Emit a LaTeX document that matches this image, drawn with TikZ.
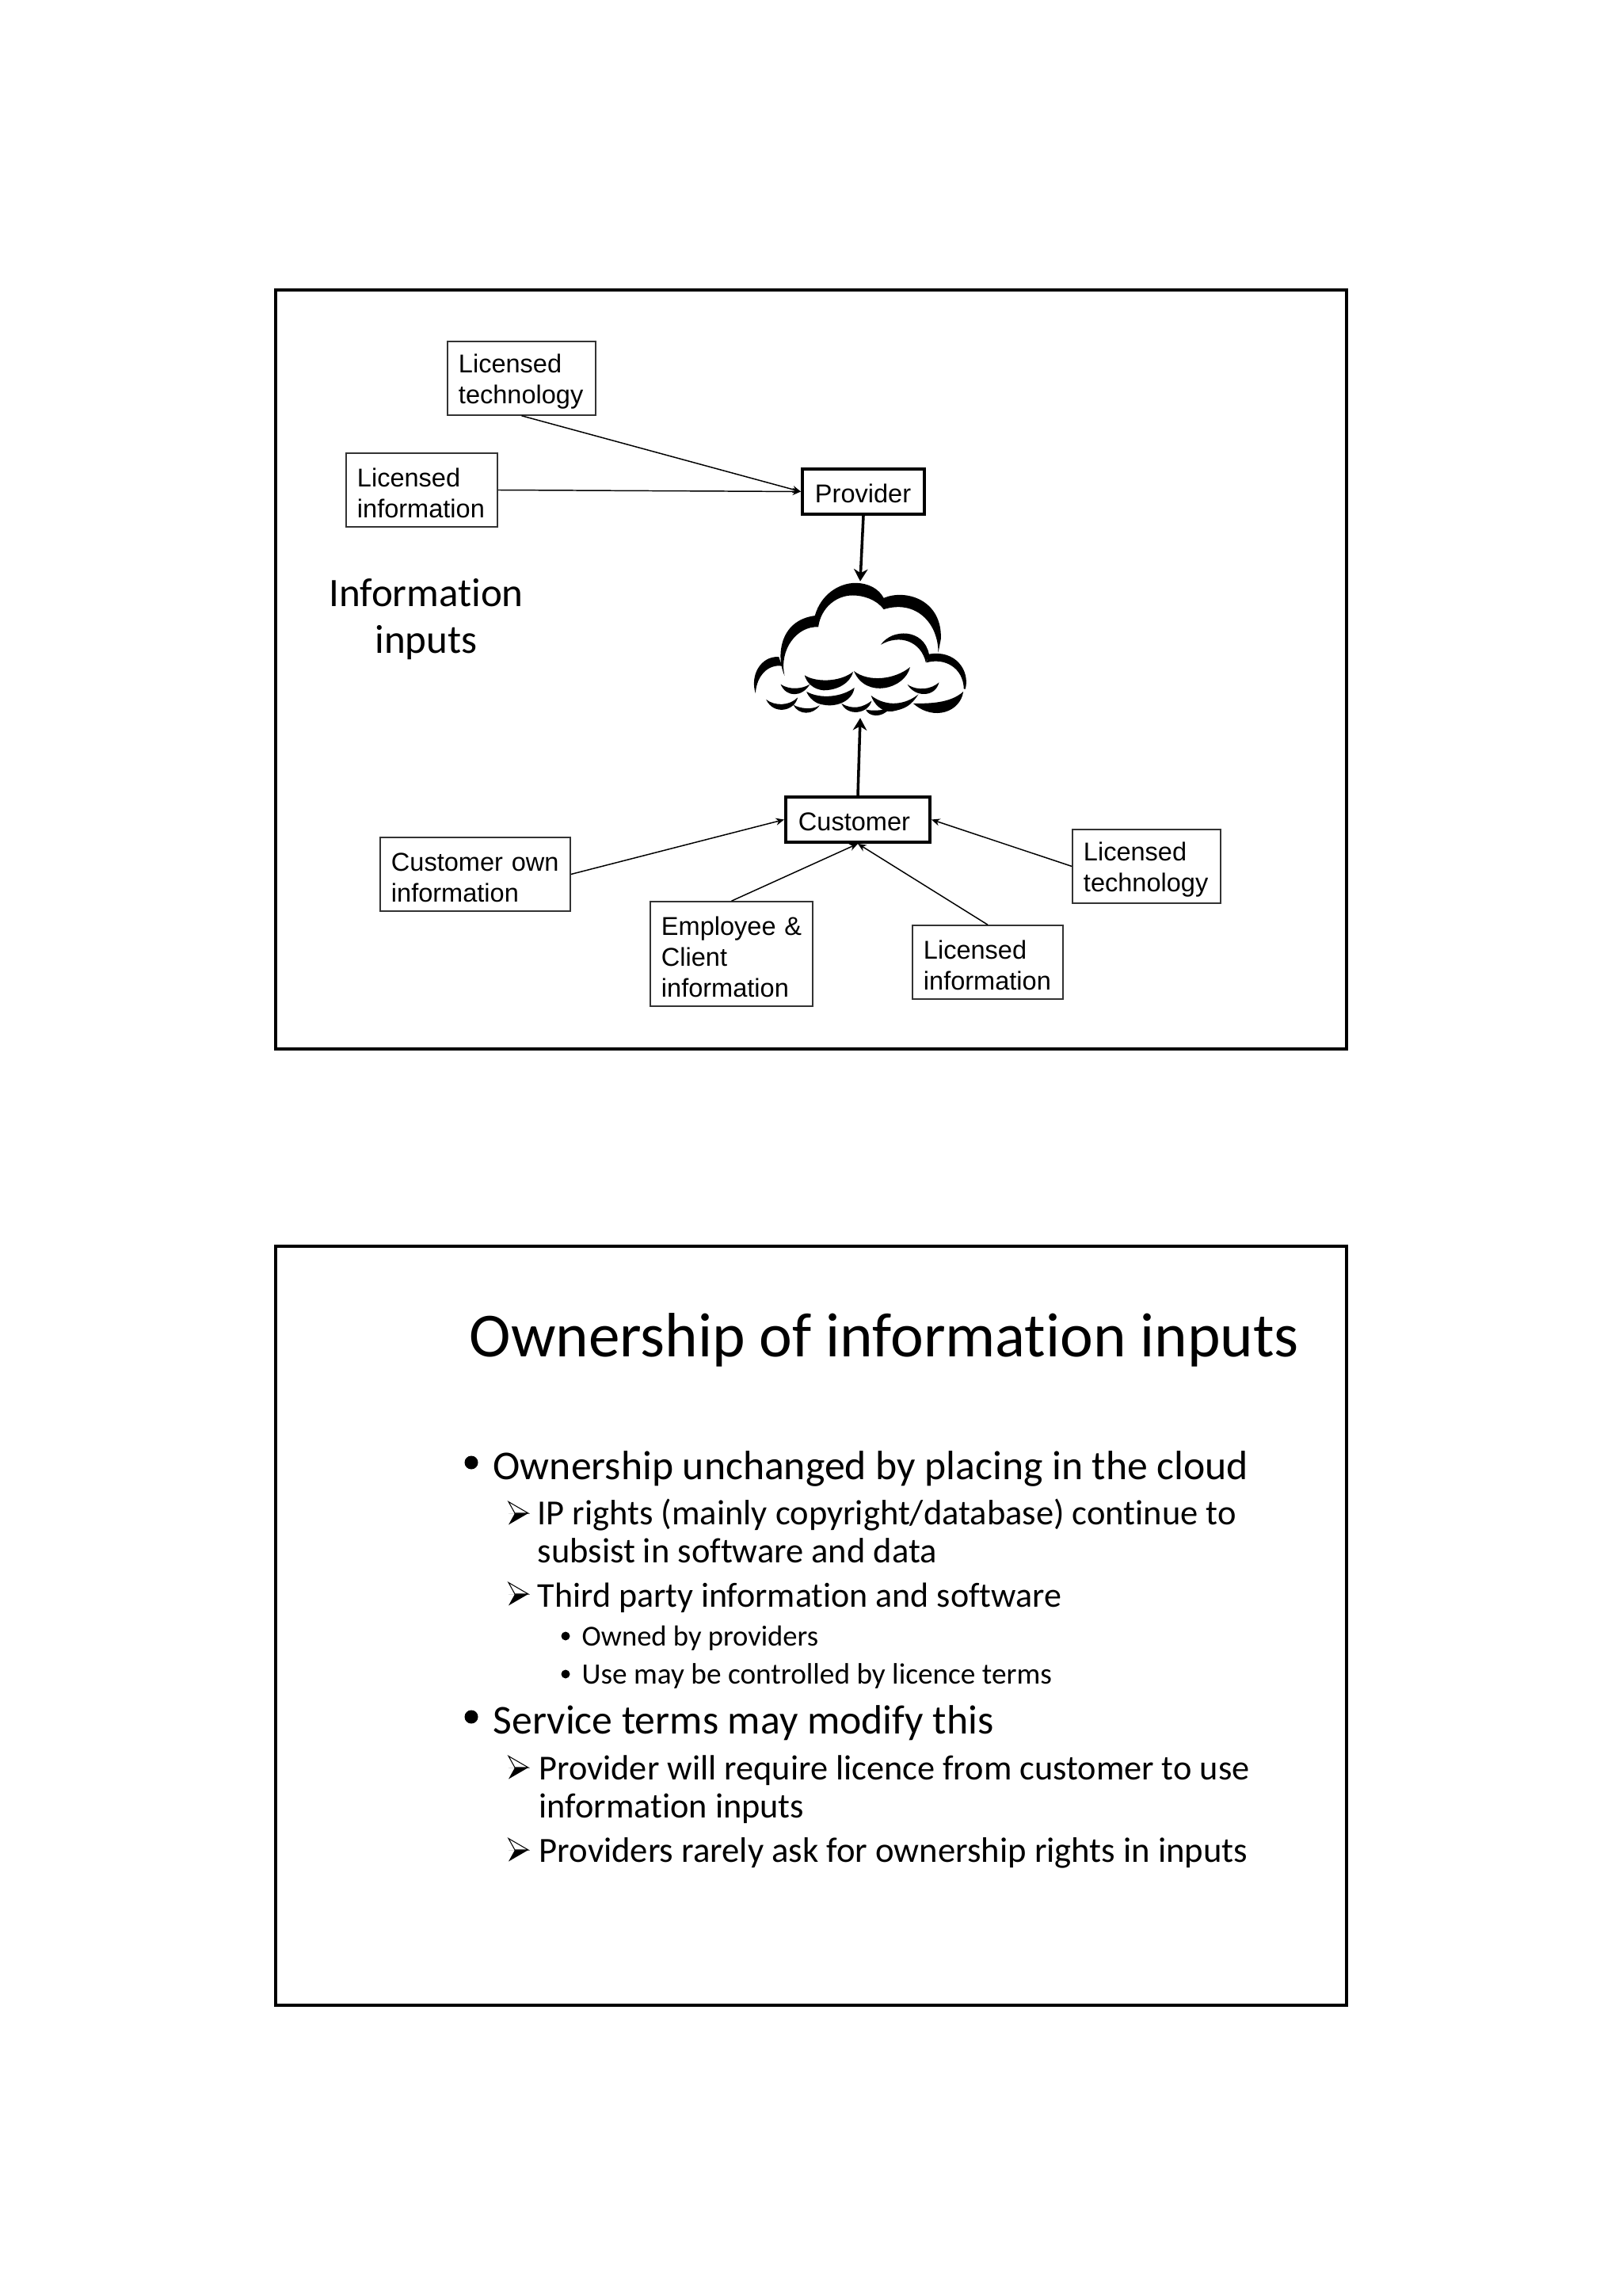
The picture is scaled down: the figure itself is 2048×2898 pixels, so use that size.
\documentclass[tikz,border=0pt]{standalone}
\usepackage{fontspec}
\usetikzlibrary{arrows.meta}
\setmainfont{Liberation Sans}
\newfontfamily\slidefont[Ligatures=NoCommon]{Carlito}
\tikzset{
  framebox/.style={draw=black,line width=1.1pt},
  infobox/.style={draw=black!80,line width=0.42pt,inner xsep=0.14cm,inner ysep=0pt,align=left,
    font=\fontsize{9.25pt}{11.1pt}\selectfont,execute at begin node={\rule{0pt}{9pt}}},
  rolebox/.style={draw=black,line width=1.1pt,inner xsep=0.16cm,inner ysep=0pt,align=left,
    font=\fontsize{9.25pt}{11.1pt}\selectfont,execute at begin node={\rule{0pt}{7.9pt}}},
  cloudbox/.style={inner sep=0pt,minimum width=2.7cm,minimum height=1.71cm},
  thinarrow/.style={draw=black,line width=0.42pt,-{Stealth[length=3pt,width=2.6pt]}},
  thickarrow/.style={draw=black,line width=1pt,-{Stealth[length=4.4pt,width=5pt]}},
  slidetext/.style={inner sep=0pt,anchor=base west,align=left},
  pics/headmark/.style={code={
    \fill[black] (-13,0) -- (-3,0) -- (12,0) -- (-13,14.5) -- (-5,0) -- cycle;
    \draw[black,line width=0.3pt,fill=white] (-13,-14.5) -- (12,0) -- (-5,0) -- cycle;
  }}
}
\begin{document}
\begin{tikzpicture}[x=0.01cm,y=-0.01cm]
   \useasboundingbox (0,0) rectangle (2048,2898);
   % first slide
   \draw[framebox] (348,366) rectangle (1700,1324);
   \node[infobox,text width=1.59cm,minimum height=0.93cm] (techA) at (658.5,477.5) {Licensed\\technology};
   \node[infobox,text width=1.63cm,minimum height=0.93cm] (infoA) at (532.5,618.5) {Licensed\\information};
   \node[rolebox,text width=1.22cm,minimum height=0.57cm] (provider) at (1090,620.5) {Provider};
   \node[cloudbox] (cloud) at (1086,820) {};
   \node[rolebox,text width=1.50cm,minimum height=0.57cm] (customer) at (1083,1034.5) {Customer};
   \node[infobox,text width=2.12cm,minimum height=0.93cm] (own) at (600,1103.5) {Customer own\\information};
   \node[infobox,text width=1.77cm,minimum height=1.32cm] (staff) at (923.5,1204) {\mbox{Employee \&}\\Client\\information};
   \node[infobox,text width=1.62cm,minimum height=0.93cm] (infoB) at (1247,1214.5) {Licensed\\information};
   \node[infobox,text width=1.59cm,minimum height=0.93cm] (techB) at (1447.5,1093.5) {Licensed\\technology};
   \node[inner sep=0pt,align=center,font=\slidefont\fontsize{14.5pt}{16.8pt}\selectfont] (inputs) at (538,782) {Information\\inputs};
   \draw[thinarrow] (techA.south) -- (provider.west);
   \draw[thinarrow] (infoA.east) -- (provider.west);
   \draw[thickarrow] (provider.south) -- (cloud.north);
   \draw[thickarrow] (customer.north) -- (cloud.south);
   \draw[thinarrow] (own.east) -- (customer.west);
   \draw[thinarrow] (staff.north) -- (customer.south);
   \draw[thinarrow] (infoB.north) -- (customer.south);
   \draw[thinarrow] (techB.west) -- (customer.east);
   % cloud
   \begin{scope}[shift={(880,640)},x=0.003333cm,y=-0.003333cm]
   \fill[black] (222,707) .. controls (200,640) and (240,565) .. (310,568) -- (322,603) .. controls (270,595) and (225,640) .. (222,707) -- cycle
     (332,640) .. controls (300,570) and (310,430) .. (447,412) -- (460,455) .. controls (380,450) and (310,540) .. (332,640) -- cycle
     (447,412) .. controls (470,330) and (540,288) .. (600,288) .. controls (650,288) and (690,310) .. (708,345) -- (708,388) .. controls (680,350) and (630,335) .. (590,335) .. controls (530,335) and (470,380) .. (460,455) -- cycle
     (708,345) .. controls (790,310) and (930,350) .. (925,500) -- (915,552) .. controls (915,440) and (830,350) .. (708,388) -- cycle
     (1018,690) .. controls (1036,620) and (980,540) .. (880,558) -- (870,590) .. controls (940,570) and (1010,610) .. (1012,690) -- cycle
     (697,522) .. controls (740,460) and (860,460) .. (880,558) -- (868,590) .. controls (850,510) and (770,480) .. (697,522) -- cycle
     (408,638) .. controls (450,665) and (540,665) .. (592,625) .. controls (580,670) and (530,695) .. (480,695) .. controls (440,692) and (415,665) .. (408,638) -- cycle
     (595,622) .. controls (650,665) and (750,655) .. (808,607) .. controls (790,690) and (640,730) .. (595,622) -- cycle
     (317,672) .. controls (350,695) and (400,690) .. (428,672) .. controls (400,720) and (340,725) .. (317,672) -- cycle
     (798,673) .. controls (840,700) and (890,690) .. (918,665) .. controls (905,720) and (830,725) .. (798,673) -- cycle
     (415,700) .. controls (470,730) and (550,720) .. (597,685) .. controls (590,735) and (530,760) .. (480,750) .. controls (450,747) and (425,725) .. (415,700) -- cycle
     (262,730) .. controls (295,755) and (350,755) .. (382,722) .. controls (370,775) and (290,790) .. (262,730) -- cycle
     (365,750) .. controls (390,765) and (440,770) .. (465,752) .. controls (440,790) and (385,790) .. (365,750) -- cycle
     (548,745) .. controls (590,770) and (630,760) .. (662,735) .. controls (650,785) and (570,795) .. (548,745) -- cycle
     (660,715) .. controls (720,760) and (790,750) .. (840,710) .. controls (810,755) and (790,765) .. (740,775) .. controls (700,780) and (670,745) .. (660,715) -- cycle
     (640,768) .. controls (670,775) and (700,770) .. (730,765) .. controls (700,802) and (650,795) .. (640,768) -- cycle
     (820,745) .. controls (880,745) and (960,745) .. (1010,700) .. controls (1000,775) and (900,815) .. (820,745) -- cycle;
   \end{scope}
   % second slide
   \draw[framebox] (348,1573) rectangle (1700,2531);
   \node[slidetext,font=\slidefont\fontsize{22.5pt}{26pt}\selectfont] (title) at (592,1712) {Ownership of information inputs};
   \node[slidetext,font=\slidefont\fontsize{14.7pt}{17pt}\selectfont] (itemA) at (622,1867) {Ownership unchanged by placing in the cloud};
   \fill (595,1846) circle (8.5);
   \pic at (655,1910) {headmark};
   \node[slidetext,font=\slidefont\fontsize{12.65pt}{13.4pt}\selectfont] (itemB) at (678,1972) {IP rights (mainly copyright/database) continue to\\subsist in software and data};
   \pic at (655,2012) {headmark};
   \node[slidetext,font=\slidefont\fontsize{12.5pt}{13.4pt}\selectfont] (itemC) at (678,2028) {Third party information and software};
   \fill (714,2065) circle (5.5);
   \node[slidetext,font=\slidefont\fontsize{10.4pt}{13pt}\selectfont] (itemD) at (734,2077) {Owned by providers};
   \fill (714,2113) circle (5.5);
   \node[slidetext,font=\slidefont\fontsize{10.6pt}{13pt}\selectfont] (itemE) at (734,2125) {Use may be controlled by licence terms};
   \fill (595,2167) circle (8.5);
   \node[slidetext,font=\slidefont\fontsize{14.7pt}{17pt}\selectfont] (itemF) at (622,2188) {Service terms may modify this};
   \pic at (655,2231) {headmark};
   \node[slidetext,font=\slidefont\fontsize{12.6pt}{13.4pt}\selectfont] (itemG) at (680,2294) {Provider will require licence from customer to use\\information inputs};
   \pic at (655,2335) {headmark};
   \node[slidetext,font=\slidefont\fontsize{12.7pt}{13.4pt}\selectfont] (itemH) at (680,2350) {Providers rarely ask for ownership rights in inputs};
\end{tikzpicture}
\end{document}
